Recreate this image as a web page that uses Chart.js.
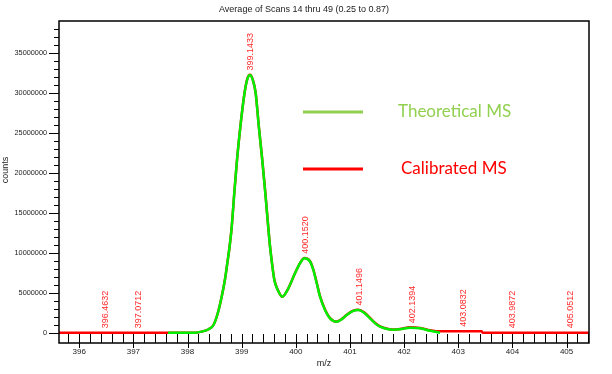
<!DOCTYPE html>
<html><head><meta charset="utf-8">
<script src="https://cdn.jsdelivr.net/npm/chart.js@4/dist/chart.umd.min.js"></script>
<style>html,body{margin:0;padding:0;background:#fff;overflow:hidden}#wrap{width:612px;height:374px;position:relative}</style>
</head><body><div id="wrap"><canvas id="c" width="612" height="374"></canvas></div>
<script>
const TITLE = 'Average of Scans 14 thru 49 (0.25 to 0.87)';
const X_LABEL = 'm/z';
const Y_LABEL = 'counts';
const SERIES_NAMES = ['Theoretical MS', 'Calibrated MS'];
const X_TICKS = [396, 397, 398, 399, 400, 401, 402, 403, 404, 405];
const Y_TICKS = [0, 5000000, 10000000, 15000000, 20000000, 25000000, 30000000, 35000000];

const THEO_MZ = [397.64, 398.14, 398.26, 398.39, 398.48, 398.56, 398.63, 398.69, 398.735, 398.776, 398.816, 398.864, 398.914, 398.975, 399.053, 399.105, 399.154, 399.205, 399.259, 399.317, 399.380, 399.437, 399.490, 399.524, 399.560, 399.603, 399.666, 399.751, 399.862, 399.985, 400.078, 400.157, 400.262, 400.323, 400.386, 400.447, 400.539, 400.631, 400.755, 400.85, 400.94, 401.05, 401.154, 401.26, 401.37, 401.46, 401.555, 401.708, 401.80, 401.924, 402.109, 402.294, 402.479, 402.602, 402.663];
const THEO_COUNTS = [0, 0, 130000, 430000, 960000, 2460000, 4460000, 6590000, 8680000, 10710000, 13210000, 17460000, 21590000, 25710000, 29960000, 31700000, 32210000, 31600000, 29930000, 25750000, 21590000, 17430000, 13250000, 10750000, 8680000, 6590000, 5340000, 4500000, 5550000, 7430000, 8680000, 9300000, 8900000, 7840000, 6180000, 4500000, 2840000, 1800000, 1380000, 1700000, 2210000, 2700000, 2840000, 2500000, 1800000, 1200000, 750000, 430000, 380000, 430000, 630000, 550000, 250000, 90000, 0];

const CALIB_MZ = [395.627, 397.64, 398.14, 398.26, 398.39, 398.48, 398.56, 398.63, 398.69, 398.735, 398.776, 398.816, 398.864, 398.914, 398.975, 399.053, 399.105, 399.154, 399.205, 399.259, 399.317, 399.380, 399.437, 399.490, 399.524, 399.560, 399.603, 399.666, 399.751, 399.862, 399.985, 400.078, 400.157, 400.262, 400.323, 400.386, 400.447, 400.539, 400.631, 400.755, 400.85, 400.94, 401.05, 401.154, 401.26, 401.37, 401.46, 401.555, 401.708, 401.80, 401.924, 402.109, 402.294, 402.479, 402.602, 402.663, 403.43, 403.45, 405.414];
const CALIB_COUNTS = [0, 0, 0, 130000, 430000, 960000, 2460000, 4460000, 6590000, 8680000, 10710000, 13210000, 17460000, 21590000, 25710000, 29960000, 31750000, 32250000, 31650000, 29950000, 25800000, 21650000, 17500000, 13300000, 10800000, 8720000, 6650000, 5380000, 4480000, 5550000, 7430000, 8700000, 9330000, 8950000, 7900000, 6250000, 4560000, 2900000, 1830000, 1390000, 1710000, 2230000, 2720000, 2870000, 2560000, 1860000, 1250000, 800000, 470000, 400000, 470000, 680000, 600000, 300000, 170000, 170000, 170000, 0, 0];

const PEAK_MZ = [396.4632, 397.0712, 399.1433, 400.1520, 401.1496, 402.1394, 403.0832, 403.9872, 405.0512];
const PEAK_LABELS = ['396.4632', '397.0712', '399.1433', '400.1520', '401.1496', '402.1394', '403.0832', '403.9872', '405.0512'];
const PEAK_COUNTS = [0, 0, 32210000, 9300000, 2840000, 630000, 170000, 0, 0];

const LEGEND_COLORS = ['#92D050', '#FF0000'];

const decor = {
  id: 'decor',
  afterDatasetsDraw(chart) {
    const {ctx, chartArea: a, scales: {x, y}} = chart;
    ctx.save();
    // frame
    ctx.strokeStyle = '#000';
    ctx.lineWidth = 1.5;
    ctx.strokeRect(a.left, a.top, a.right - a.left, a.bottom - a.top);
    // x ticks (minor every 0.2)
    ctx.lineWidth = 1;
    ctx.beginPath();
    const i0 = Math.ceil(x.min * 5), i1 = Math.floor(x.max * 5);
    for (let i = i0; i <= i1; i++) {
      const px = Math.round(x.getPixelForValue(i / 5)) + 0.5;
      const major = i % 5 === 0;
      ctx.moveTo(px, a.bottom - 9);
      ctx.lineTo(px, a.bottom + (major ? 5 : 0));
    }
    // y ticks (minor every 1,000,000)
    const j0 = Math.ceil(y.min / 1e6), j1 = Math.floor(y.max / 1e6);
    for (let j = Math.max(j0, 0); j <= j1; j++) {
      const py = Math.round(y.getPixelForValue(j * 1e6)) + 0.5;
      const major = j % 5 === 0;
      ctx.moveTo(a.left - (major ? 10 : 5), py);
      ctx.lineTo(a.left, py);
    }
    ctx.stroke();

    // peak labels
    ctx.fillStyle = '#ff2a2a';
    ctx.font = '9px "Liberation Sans", Arial, sans-serif';
    ctx.textAlign = 'left';
    ctx.textBaseline = 'middle';
    PEAK_MZ.forEach((mz, k) => {
      const px = x.getPixelForValue(mz) + 1;
      const py = y.getPixelForValue(PEAK_COUNTS[k]) - 4.5;
      ctx.save();
      ctx.translate(px, py);
      ctx.rotate(-Math.PI / 2);
      ctx.fillText(PEAK_LABELS[k], 0, 0);
      ctx.restore();
    });

    // legend
    const legY = [112, 169];
    chart.data.datasets.forEach((ds, k) => {
      ctx.strokeStyle = LEGEND_COLORS[k];
      ctx.lineWidth = 3;
      ctx.beginPath();
      ctx.moveTo(303, legY[k]);
      ctx.lineTo(363, legY[k]);
      ctx.stroke();
      ctx.fillStyle = LEGEND_COLORS[k];
      ctx.font = '17px Lato, "Open Sans", sans-serif';
      ctx.textAlign = 'left';
      ctx.textBaseline = 'middle';
      ctx.fillText(ds.label, k === 0 ? 398 : 401, legY[k]);
    });

    // title and axis titles
    ctx.fillStyle = '#222';
    ctx.font = '9px "Liberation Sans", Arial, sans-serif';
    ctx.textAlign = 'center';
    ctx.textBaseline = 'middle';
    ctx.fillText(TITLE, 304, 9.5);
    ctx.font = '9px "Liberation Sans", Arial, sans-serif';
    ctx.fillText(X_LABEL, 324, 364);
    ctx.save();
    ctx.translate(6, 170);
    ctx.rotate(-Math.PI / 2);
    ctx.font = '9px "Liberation Sans", Arial, sans-serif';
    ctx.fillText(Y_LABEL, 0, 0);
    ctx.restore();
    ctx.restore();
  }
};

new Chart(document.getElementById('c'), {
  type: 'line',
  data: {
    datasets: [
      {
        label: SERIES_NAMES[0],
        data: THEO_MZ.map((m, i) => ({x: m, y: THEO_COUNTS[i]})),
        borderColor: '#00ee00',
        borderWidth: 2.5,
        pointRadius: 0,
        cubicInterpolationMode: 'monotone',
        order: 0
      },
      {
        label: SERIES_NAMES[1],
        data: CALIB_MZ.map((m, i) => ({x: m, y: CALIB_COUNTS[i]})),
        borderColor: '#ff0000',
        borderWidth: 2.5,
        pointRadius: 0,
        cubicInterpolationMode: 'monotone',
        order: 1
      }
    ]
  },
  options: {
    responsive: false,
    devicePixelRatio: 1,
    animation: false,
    layout: {padding: {top: 21, right: 23, left: 0, bottom: 0}},
    plugins: {legend: {display: false}, tooltip: {enabled: false}, title: {display: false}},
    scales: {
      x: {
        type: 'linear',
        min: 395.627,
        max: 405.414,
        grid: {display: false, drawTicks: false},
        border: {display: false},
        afterBuildTicks: s => { s.ticks = X_TICKS.map(v => ({value: v})); },
        afterFit: s => { s.height = 31; },
        ticks: {
          padding: 4,
          color: '#222',
          font: {family: '"Liberation Sans", Arial, sans-serif', size: 8},
          maxRotation: 0,
          autoSkip: false,
          callback: v => String(v)
        }
      },
      y: {
        type: 'linear',
        min: -1287500,
        max: 38962500,
        grid: {display: false, drawTicks: false},
        border: {display: false},
        afterBuildTicks: s => { s.ticks = Y_TICKS.map(v => ({value: v})); },
        afterFit: s => { s.width = 59; },
        ticks: {
          padding: 12,
          color: '#222',
          font: {family: '"Liberation Sans", Arial, sans-serif', size: 7.3},
          autoSkip: false,
          callback: v => String(v)
        }
      }
    }
  },
  plugins: [decor]
});
</script>
</body></html>
